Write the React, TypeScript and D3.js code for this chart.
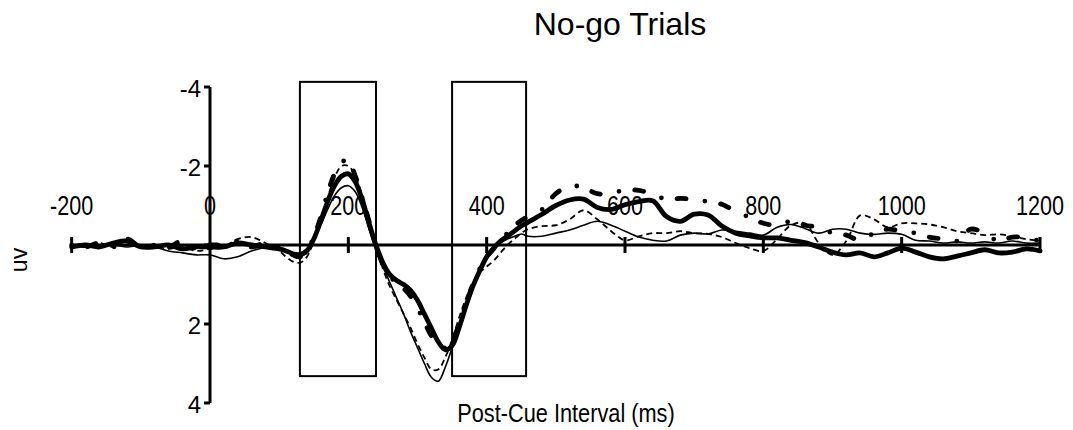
import React from "react";
import * as d3 from "d3";

const TIMES = [
  -200, -180, -160, -140, -120, -100, -80, -60, -40, -20, 0, 20, 40, 60, 80, 100,
  110, 120, 130, 140, 150, 160, 170, 180, 190, 200, 210, 220, 230, 240, 250, 260, 270, 280, 290, 300,
  310, 320, 330, 340, 350, 360, 370, 380, 390, 400, 410, 420, 430, 440, 450, 460,
  480, 500, 520, 540, 560, 580, 600, 620, 640, 660, 680, 700, 720, 740, 760, 780, 800, 820, 840, 860,
  880, 900, 920, 940, 960, 980, 1000, 1020, 1040, 1060, 1080, 1100, 1120, 1140, 1160, 1180, 1200,
];

const thickSolid = [
  0.05, 0.0, 0.05, -0.05, -0.1, 0.05, 0.05, 0.0, 0.1, 0.05, 0.05, 0.05, -0.05, 0.0, 0.05, 0.1,
  0.15, 0.22, 0.25, 0.15, -0.15, -0.6, -1.1, -1.5, -1.74, -1.8, -1.6, -1.15, -0.55, 0.0, 0.45, 0.75, 0.9, 1.0, 1.15, 1.4,
  1.75, 2.1, 2.45, 2.65, 2.55, 2.1, 1.55, 1.05, 0.65, 0.3, 0.08, -0.1, -0.22, -0.35, -0.48, -0.58,
  -0.78, -1.0, -1.14, -1.16, -0.95, -0.9, -1.02, -1.1, -1.12, -0.72, -0.6, -0.78, -0.76, -0.48, -0.3, -0.23, -0.18, -0.18, -0.12, -0.06,
  0.05, 0.18, 0.25, 0.2, 0.3, 0.2, 0.08, 0.18, 0.3, 0.35, 0.28, 0.2, 0.12, 0.2, 0.18, 0.1, 0.15,
];

const thinSolid = [
  0.05, 0.0, 0.05, 0.0, 0.05, 0.0, 0.05, 0.15, 0.2, 0.25, 0.25, 0.35, 0.3, 0.15, 0.07, 0.1,
  0.15, 0.2, 0.2, 0.1, -0.15, -0.5, -0.9, -1.25, -1.45, -1.5, -1.35, -0.95, -0.4, 0.15, 0.55, 0.95, 1.35, 1.75, 2.2, 2.6,
  3.0, 3.35, 3.45, 3.1, 2.6, 2.05, 1.5, 1.0, 0.6, 0.3, 0.1, -0.05, -0.15, -0.22, -0.28, -0.22,
  -0.22, -0.3, -0.38, -0.5, -0.6, -0.5, -0.35, -0.2, -0.12, -0.1, -0.25, -0.3, -0.28, -0.38, -0.35, -0.3, -0.25, -0.45, -0.52, -0.42,
  -0.3, -0.4, -0.4, -0.3, -0.27, -0.3, -0.27, -0.12, -0.1, -0.05, -0.08, -0.05, -0.08, -0.05, -0.1, -0.05, -0.05,
];

const thinDashed = [
  0.0, 0.05, -0.05, 0.05, -0.1, 0.0, 0.05, 0.1, 0.05, 0.15, 0.1, 0.05, -0.15, -0.2, -0.05, 0.15,
  0.3, 0.42, 0.45, 0.3, -0.1, -0.6, -1.2, -1.7, -2.0, -2.0, -1.75, -1.25, -0.6, 0.05, 0.6, 1.05, 1.4, 1.75, 2.1, 2.5,
  2.85, 3.15, 3.15, 2.85, 2.4, 1.85, 1.35, 0.95, 0.7, 0.55, 0.4, 0.2, 0.0, -0.15, -0.3, -0.4,
  -0.48, -0.5, -0.65, -0.88, -0.65, -0.35, -0.12, -0.22, -0.3, -0.3, -0.35, -0.3, -0.28, -0.2, -0.05, 0.08, 0.15, -0.15, -0.5, -0.55,
  -0.05, 0.25, -0.1, -0.75, -0.65, -0.45, -0.55, -0.55, -0.52, -0.45, -0.35, -0.3, -0.25, -0.27, -0.22, -0.15, -0.1,
];

const thickDashDot = [
  0.0, 0.05, -0.05, 0.05, -0.15, 0.05, 0.0, 0.05, -0.1, 0.1, 0.0, 0.0, -0.1, 0.05, -0.05, 0.05,
  0.15, 0.25, 0.3, 0.15, -0.2, -0.7, -1.3, -1.8, -2.1, -2.12, -1.75, -1.2, -0.6, 0.0, 0.5, 0.8, 0.95, 1.1, 1.3, 1.6,
  1.95, 2.3, 2.55, 2.6, 2.45, 2.0, 1.5, 1.0, 0.6, 0.3, 0.1, -0.1, -0.3, -0.48, -0.62, -0.72,
  -0.9, -1.3, -1.5, -1.45, -1.3, -1.3, -1.4, -1.38, -1.3, -1.15, -1.18, -1.15, -1.1, -1.03, -0.85, -0.7, -0.55, -0.5, -0.6, -0.5,
  -0.45, -0.3, -0.25, -0.12, -0.3, -0.4, -0.35, -0.3, -0.2, -0.15, -0.1, -0.4, -0.3, -0.1, -0.2, -0.18, -0.1,
];

const X_TICKS = [-200, 0, 200, 400, 600, 800, 1000, 1200];
const Y_TICKS = [-4, -2, 0, 2, 4];
const WINDOWS = [
  [130, 240],
  [350, 457],
];
const WINDOW_RANGE = [-4.13, 3.32];

const TITLE = "No-go Trials";
const X_TITLE = "Post-Cue Interval (ms)";
const Y_TITLE = "uv";

const FONT = "'Liberation Sans', Arial, Helvetica, sans-serif";

export default function App() {
  const W = 1073;
  const H = 430;
  const x = d3.scaleLinear().domain([0, 1200]).range([210, 1040]);
  const y = d3.scaleLinear().domain([-4, 4]).range([87, 403]);
  const y0 = y(0);

  const line = (vals: number[]) =>
    d3
      .line<number>()
      .x((_, i) => x(TIMES[i]))
      .y((v) => y(v))
      .curve(d3.curveCatmullRom.alpha(0.5))(vals) || "";

  const series = [
    { vals: thinSolid, w: 1.6, dash: undefined as string | undefined, cap: "butt" },
    { vals: thinDashed, w: 1.8, dash: "6 4", cap: "butt" },
    { vals: thickDashDot, w: 4.8, dash: "0 16 9 19", cap: "round" },
    { vals: thickSolid, w: 4.8, dash: undefined, cap: "round" },
  ];

  return (
    <svg
      width={W}
      height={H}
      style={{ position: "absolute", left: 0, top: 0, background: "#fff" }}
      fontFamily={FONT}
    >
      <rect x={0} y={0} width={W} height={H} fill="#fff" />
      <text x={620} y={35} fontSize={32} textAnchor="middle" fill="#000">
        {TITLE}
      </text>

      {WINDOWS.map(([a, b], i) => (
        <rect
          key={i}
          x={x(a)}
          y={y(WINDOW_RANGE[0])}
          width={x(b) - x(a)}
          height={y(WINDOW_RANGE[1]) - y(WINDOW_RANGE[0])}
          fill="none"
          stroke="#000"
          strokeWidth={2}
        />
      ))}

      {/* y axis */}
      <line x1={x(0)} x2={x(0)} y1={y(-4)} y2={y(4)} stroke="#000" strokeWidth={3} />
      {Y_TICKS.map((t) => (
        <g key={t}>
          <line x1={x(0) - 6} x2={x(0)} y1={y(t)} y2={y(t)} stroke="#000" strokeWidth={3} />
          {t !== 0 && (
            <text x={201} y={y(t) + 2} dy="0.35em" fontSize={24} textAnchor="end" fill="#000">
              {t}
            </text>
          )}
        </g>
      ))}

      {/* x axis */}
      <line x1={x(-200)} x2={x(1200)} y1={y0} y2={y0} stroke="#000" strokeWidth={3} />
      {X_TICKS.map((t) => (
        <g key={t}>
          {t !== 0 && (
            <line x1={x(t)} x2={x(t)} y1={y0 - 8} y2={y0 + 8} stroke="#000" strokeWidth={3} />
          )}
          <text
            transform={`translate(${x(t)},215) scale(0.8,1)`}
            fontSize={27}
            textAnchor="middle"
            fill="#000"
          >
            {t}
          </text>
        </g>
      ))}

      <text
        transform="translate(566,422) scale(0.87,1)"
        fontSize={25}
        textAnchor="middle"
        fill="#000"
      >
        {X_TITLE}
      </text>
      <text transform="translate(27,260) rotate(-90)" fontSize={23} textAnchor="middle" fill="#000">
        {Y_TITLE}
      </text>

      {series.map((s, i) => (
        <path
          key={i}
          d={line(s.vals)}
          fill="none"
          stroke="#000"
          strokeWidth={s.w}
          strokeDasharray={s.dash}
          strokeLinecap={s.cap as any}
          strokeLinejoin="round"
        />
      ))}
    </svg>
  );
}
